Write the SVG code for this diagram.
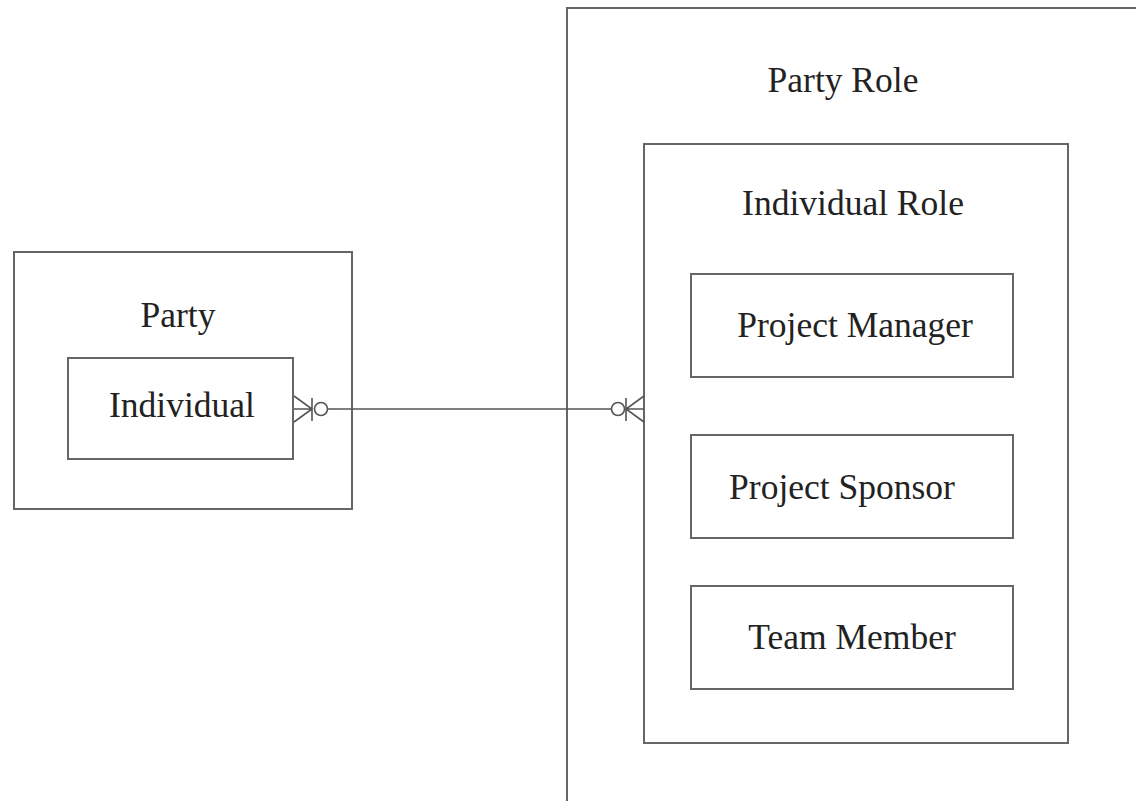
<svg xmlns="http://www.w3.org/2000/svg" width="1136" height="801" viewBox="0 0 1136 801">
<style>
.box{fill:none;stroke:#666;stroke-width:2}
.lbl{font-family:"Liberation Serif","Times New Roman",serif;font-size:35.5px;fill:#222;text-anchor:middle}
.con{fill:none;stroke:#555;stroke-width:1.6}
</style>
<rect width="1136" height="801" fill="#fff"/>
<g id="party-role">
<rect class="box" x="567" y="8" width="620" height="830"/>
<text class="lbl" x="843" y="92">Party Role</text>
</g>
<g id="individual-role">
<rect class="box" x="644" y="144" width="424" height="599"/>
<text class="lbl" x="853" y="215">Individual Role</text>
</g>
<g id="project-manager">
<rect class="box" x="691" y="274" width="322" height="103"/>
<text class="lbl" x="855" y="337">Project Manager</text>
</g>
<g id="project-sponsor">
<rect class="box" x="691" y="435" width="322" height="103"/>
<text class="lbl" x="842" y="499">Project Sponsor</text>
</g>
<g id="team-member">
<rect class="box" x="691" y="586" width="322" height="103"/>
<text class="lbl" x="852" y="649">Team Member</text>
</g>
<g id="party">
<rect class="box" x="14" y="252" width="338" height="257"/>
<text class="lbl" x="178" y="327">Party</text>
</g>
<g id="individual">
<rect class="box" x="68" y="358" width="225" height="101"/>
<text class="lbl" x="182" y="417">Individual</text>
</g>
<g id="connectors">
<line class="con" x1="328" y1="409" x2="612" y2="409"/>
<path class="con" d="M294 396 L312 409 L294 422 M294 409 L312 409 M312 398 L312 421"/>
<circle class="con" cx="321" cy="409" r="6.5" fill="#fff"/>
<path class="con" d="M644 396 L626 409 L644 422 M644 409 L626 409 M626 398 L626 421"/>
<circle class="con" cx="618" cy="409" r="6.5" fill="#fff"/>
</g>
</svg>
